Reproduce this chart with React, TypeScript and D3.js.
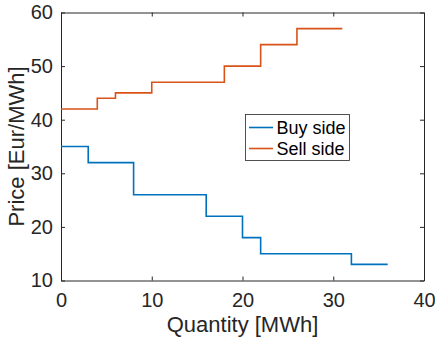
import React, { useEffect, useRef } from 'react';
import * as d3 from 'd3';

// step curves: quantity breakpoints and price per step
const buyQty = [0, 3, 8, 16, 20, 22, 32, 36];
const buyPrice = [35, 32, 26, 22, 18, 15, 13];
const sellQty = [0, 4, 6, 10, 18, 22, 26, 31];
const sellPrice = [42, 44, 45, 47, 50, 54, 57];
const xTicks = [0, 10, 20, 30, 40];
const yTicks = [10, 20, 30, 40, 50, 60];
const seriesNames = ['Buy side', 'Sell side'];
const seriesColors = ['#0072BD', '#D95319'];

const toPoints = (qty: number[], price: number[]) => {
  const pts: [number, number][] = [];
  price.forEach((p, i) => {
    pts.push([qty[i], p]);
    pts.push([qty[i + 1], p]);
  });
  return pts;
};

const App = () => {
  const svgRef = useRef<SVGSVGElement>(null);

  useEffect(() => {
    const svg = d3.select(svgRef.current);
    svg.selectAll('*').remove();

    const W = 435, H = 339;
    const margin = { top: 12.5, right: 11, bottom: 58.5, left: 61 };
    const width = W - margin.left - margin.right;
    const height = H - margin.top - margin.bottom;
    const font = '"Liberation Sans", Arial, Helvetica, sans-serif';
    const axisColor = '#262626';

    const g = svg.append('g').attr('transform', `translate(${margin.left},${margin.top})`);

    const x = d3.scaleLinear().domain([0, 40]).range([0, width]);
    const y = d3.scaleLinear().domain([10, 60]).range([height, 0]);

    g.append('rect')
      .attr('width', width).attr('height', height)
      .attr('fill', 'white');

    // box with inward ticks on all sides
    const tickLen = 4;
    const axes = [
      { ax: d3.axisBottom(x).tickValues(xTicks).tickSizeInner(-tickLen).tickSizeOuter(0).tickPadding(12), t: `translate(0,${height})`, labels: true },
      { ax: d3.axisTop(x).tickValues(xTicks).tickSizeInner(-tickLen).tickSizeOuter(0), t: 'translate(0,0)', labels: false },
      { ax: d3.axisLeft(y).tickValues(yTicks).tickSizeInner(-tickLen).tickSizeOuter(0).tickPadding(8), t: 'translate(0,0)', labels: true },
      { ax: d3.axisRight(y).tickValues(yTicks).tickSizeInner(-tickLen).tickSizeOuter(0), t: `translate(${width},0)`, labels: false },
    ];
    axes.forEach(({ ax, t, labels }) => {
      const a = g.append('g').attr('transform', t).call(ax as any);
      a.select('.domain').attr('stroke', axisColor).attr('stroke-width', 1);
      a.selectAll('.tick line').attr('stroke', axisColor);
      a.selectAll('.tick text')
        .attr('fill', axisColor)
        .style('font-family', font)
        .style('font-size', '20px')
        .style('display', labels ? null : 'none');
    });

    const line = d3.line<[number, number]>()
      .x(d => x(d[0]))
      .y(d => y(d[1]));

    [toPoints(buyQty, buyPrice), toPoints(sellQty, sellPrice)].forEach((pts, i) => {
      g.append('path')
        .datum(pts)
        .attr('fill', 'none')
        .attr('stroke', seriesColors[i])
        .attr('stroke-width', 1.6)
        .attr('d', line);
    });

    // axis labels
    g.append('text')
      .attr('x', width / 2)
      .attr('y', height + 51.5)
      .attr('text-anchor', 'middle')
      .attr('fill', axisColor)
      .style('font-family', font)
      .style('font-size', '22px')
      .text('Quantity [MWh]');

    g.append('text')
      .attr('transform', 'rotate(-90)')
      .attr('x', -height / 2)
      .attr('y', -37)
      .attr('text-anchor', 'middle')
      .attr('fill', axisColor)
      .style('font-family', font)
      .style('font-size', '22px')
      .text('Price [Eur/MWh]');

    // legend
    const lg = svg.append('g').attr('transform', 'translate(245.5,114.5)');
    lg.append('rect')
      .attr('width', 104).attr('height', 46)
      .attr('fill', 'white')
      .attr('stroke', axisColor)
      .attr('stroke-width', 0.8);
    seriesNames.forEach((name, i) => {
      const cy = 13 + i * 21;
      lg.append('line')
        .attr('x1', 3.5).attr('x2', 27.5)
        .attr('y1', cy).attr('y2', cy)
        .attr('stroke', seriesColors[i])
        .attr('stroke-width', 1.6);
      lg.append('text')
        .attr('x', 31)
        .attr('y', cy)
        .attr('dy', '0.35em')
        .attr('fill', '#000')
        .style('font-family', font)
        .style('font-size', '18px')
        .text(name);
    });
  }, []);

  return <svg ref={svgRef} width={435} height={339} style={{ display: 'block', position: 'absolute', left: 0, top: 0 }} />;
};

export default App;
